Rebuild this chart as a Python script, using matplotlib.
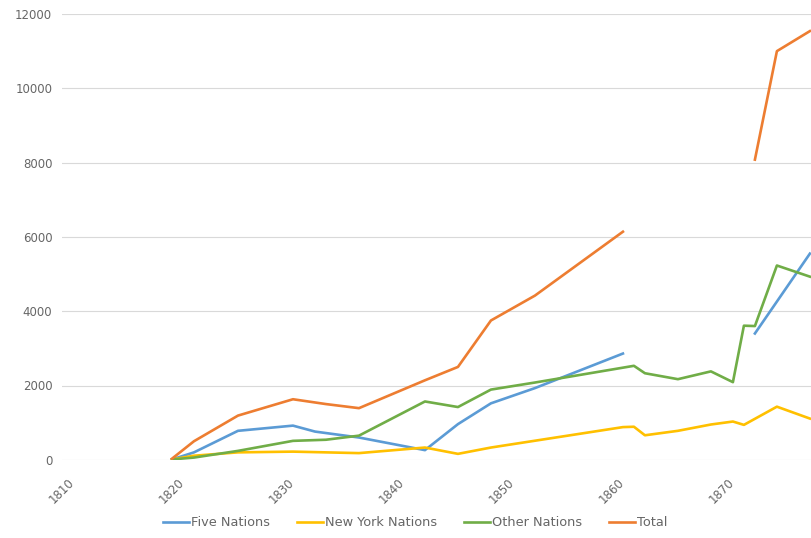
# settings
import numpy as np
import matplotlib.pyplot as plt
from matplotlib.transforms import ScaledTranslation

# 各系列のデータ（年, 人数）
five_years = [1820, 1822, 1826, 1831, 1833, 1837, 1843, 1846, 1849, 1853, 1861, 1867, 1873, 1878]
five_vals = [10, 200, 780, 920, 760, 600, 260, 960, 1520, 1930, 2860, np.nan, 3400, 5550]

ny_years = [1820, 1822, 1826, 1831, 1837, 1843, 1846, 1849, 1861, 1862, 1863, 1866, 1869, 1871, 1872, 1875, 1878]
ny_vals = [10, 110, 200, 220, 180, 330, 160, 330, 880, 890, 660, 780, 950, 1030, 940, 1430, 1110]

other_years = [1820, 1822, 1826, 1831, 1834, 1837, 1843, 1846, 1849, 1853, 1862, 1863, 1866, 1869, 1871, 1872, 1873, 1875, 1878]
other_vals = [10, 60, 240, 510, 540, 650, 1570, 1420, 1890, 2080, 2530, 2330, 2170, 2380, 2090, 3610, 3600, 5230, 4930]

total_years = [1820, 1822, 1826, 1831, 1834, 1837, 1843, 1846, 1849, 1853, 1861, 1867, 1873, 1875, 1878]
total_vals = [30, 500, 1190, 1630, 1500, 1390, 2140, 2500, 3750, 4420, 6140, np.nan, 8080, 11000, 11540]

x_ticks = [1810, 1820, 1830, 1840, 1850, 1860, 1870]
y_ticks = [0, 2000, 4000, 6000, 8000, 10000, 12000]

plt.rcParams['font.family'] = ['DejaVu Sans']
text_color = '#666666'

fig = plt.figure(figsize=(8.11, 5.38), dpi=100)
ax = fig.add_axes([62 / 811, 1 - 459.8 / 538, 1 - 62 / 811, (459.8 - 14) / 538])

lw = 1.9
ax.plot(five_years, five_vals, color='#5B9BD5', lw=lw, label='Five Nations')
ax.plot(ny_years, ny_vals, color='#FFC000', lw=lw, label='New York Nations')
ax.plot(other_years, other_vals, color='#70AD47', lw=lw, label='Other Nations')
ax.plot(total_years, total_vals, color='#ED7D31', lw=lw, label='Total')

ax.set_xlim(1810, 1878.1)
ax.set_ylim(0, 12000)
ax.set_xticks(x_ticks)
ax.set_yticks(y_ticks)
ax.set_yticklabels([str(v) for v in y_ticks])

# 目盛線と枠
ax.grid(axis='y', color='#D9D9D9', lw=0.8)
ax.set_axisbelow(True)
for s in ax.spines.values():
    s.set_visible(False)
ax.tick_params(axis='both', length=0, labelsize=8.5, labelcolor=text_color)
ax.tick_params(axis='y', pad=7)
ax.tick_params(axis='x', pad=15)

# 横軸ラベルを45度回転
offset = ScaledTranslation(0.10, 0, fig.dpi_scale_trans)
for label in ax.get_xticklabels():
    label.set_rotation(45)
    label.set_ha('right')
    label.set_va('center')
    label.set_rotation_mode('anchor')
    label.set_transform(label.get_transform() + offset)

# 凡例
fig.legend(loc='center', bbox_to_anchor=(0.512, 1 - 523 / 538), ncol=4, frameon=False,
           fontsize=9.3, labelcolor=text_color, handlelength=2.0, handletextpad=0.15,
           columnspacing=2.1)

plt.savefig('out.png', dpi=100)
